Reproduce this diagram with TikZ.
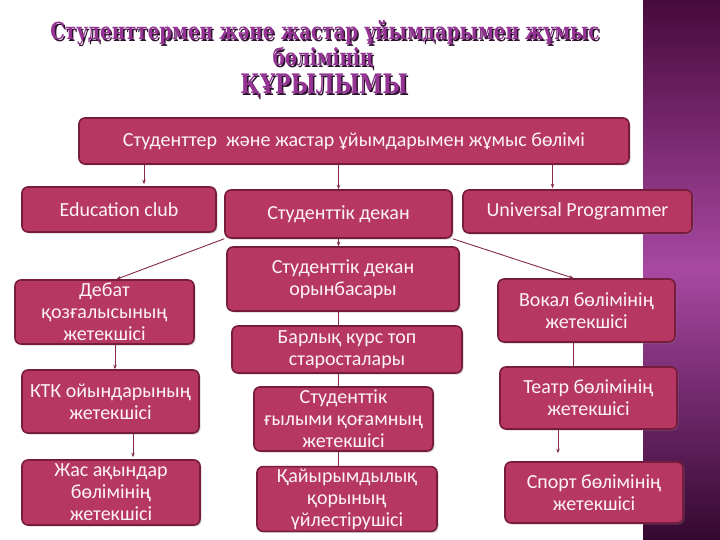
\documentclass[tikz,border=0pt]{standalone}
\usepackage{fontspec}
\setmainfont{Carlito}
\newfontfamily\titlefont{DejaVu Serif}
\usetikzlibrary{arrows.meta,shadows}
\definecolor{boxfill}{RGB}{182,56,98}
\definecolor{boxline}{RGB}{120,28,62}
\definecolor{txt}{RGB}{253,242,247}
\definecolor{connc}{RGB}{135,42,72}
\definecolor{ttl}{RGB}{150,52,150}
\definecolor{ttlsh}{RGB}{45,18,45}
\definecolor{stripA}{RGB}{72,10,60}
\definecolor{stripB}{RGB}{168,72,162}
\definecolor{stripC}{RGB}{52,8,48}
\newcommand{\tsq}[1]{\scalebox{0.87}[1.12]{#1}}
\begin{document}
\begin{tikzpicture}[x=1pt,y=-1pt,
  box/.style={draw=boxline, line width=1.6pt, fill=boxfill, rounded corners=6pt,
    text=txt, font=\fontsize{20}{22}\selectfont, align=center, inner sep=2pt,
    drop shadow={shadow xshift=1.5pt, shadow yshift=-1.5pt, opacity=0.35}},
  conn/.style={draw=connc, line width=0.9pt},
  arr/.style={conn, -{Stealth[length=4.5pt,width=3.5pt]}},
  ttlA/.style={font=\titlefont\bfseries\fontsize{21}{24}\selectfont, inner sep=0pt},
  ttlB/.style={font=\titlefont\bfseries\fontsize{24}{28}\selectfont, inner sep=0pt}]
\useasboundingbox (0,0) rectangle (720,540);
\fill[white] (0,0) rectangle (720,540);
\shade[top color=stripA, bottom color=stripC, middle color=stripB] (643,0) rectangle (720,540);

% title
\node[ttlA, text=ttlsh] (t1s) at (326.5,34.5) {\tsq{Студенттермен және жастар ұйымдарымен жұмыс}};
\node[ttlA, text=ttl] (t1) at (325,33) {\tsq{Студенттермен және жастар ұйымдарымен жұмыс}};
\node[ttlA, text=ttlsh] (t2s) at (324.5,59.5) {\tsq{бөлімінің}};
\node[ttlA, text=ttl] (t2) at (323,58) {\tsq{бөлімінің}};
\node[ttlB, text=ttlsh] (t3s) at (325.5,87.5) {\tsq{ҚҰРЫЛЫМЫ}};
\node[ttlB, text=ttl] (t3) at (324,86) {\tsq{ҚҰРЫЛЫМЫ}};

% boxes
\node[box, minimum width=550pt, minimum height=46pt] (top) at (354,141) {Студенттер\ \ және жастар ұйымдарымен жұмыс бөлімі};
\node[box, minimum width=194pt, minimum height=45pt] (ed) at (119,209.5) {Education club};
\node[box, minimum width=227pt, minimum height=48pt] (dean) at (338.5,214) {Студенттік декан};
\node[box, minimum width=229pt, minimum height=43pt] (up) at (577.5,211.5) {Universal Programmer};
\node[box, minimum width=232pt, minimum height=64pt] (orynb) at (343,279) {Студенттік декан\\орынбасары};
\node[box, minimum width=230pt, minimum height=47pt] (barlyk) at (347,349.5) {Барлық курс топ\\старосталары};
\node[box, minimum width=179pt, minimum height=64pt] (gylymi) at (343.5,419) {Студенттік\\ғылыми қоғамның\\жетекшісі};
\node[box, minimum width=180pt, minimum height=62pt] (kaiyr) at (347,499) {Қайырымдылық\\қорының\\үйлестірушісі};
\node[box, minimum width=179pt, minimum height=64pt] (debat) at (104.5,312) {Дебат\\қозғалысының\\жетекшісі};
\node[box, minimum width=177pt, minimum height=63pt] (ktk) at (110.5,401.5) {КТК ойындарының\\жетекшісі};
\node[box, minimum width=178pt, minimum height=65pt] (zhas) at (111,492.5) {Жас ақындар\\бөлімінің\\жетекшісі};
\node[box, minimum width=177pt, minimum height=63pt] (vokal) at (586.5,310.5) {Вокал бөлімінің\\жетекшісі};
\node[box, minimum width=177pt, minimum height=62pt] (teatr) at (588.5,398) {Театр бөлімінің\\жетекшісі};
\node[box, minimum width=178pt, minimum height=61pt] (sport) at (594,492.5) {Спорт бөлімінің\\жетекшісі};

% connectors
\draw[arr, shorten >=2pt] ([xshift=25pt]ed.north |- top.south) -- ([xshift=25pt]ed.north);
\draw[arr] (top.south -| dean.north) -- (dean.north);
\draw[arr, shorten >=1pt] ([xshift=-25pt]up.north |- top.south) -- ([xshift=-25pt]up.north);
\draw[arr] (dean.south west) -- ([xshift=12pt]debat.north);
\draw[arr] (dean.south east) -- ([xshift=-13pt]vokal.north);
\draw[arr] (dean.south) -- (dean.south |- orynb.north);
\draw[conn] (orynb.south -| dean.south) -- (barlyk.north -| dean.south);
\draw[conn] (barlyk.south -| dean.south) -- (gylymi.north -| dean.south);
\draw[conn] (gylymi.south -| dean.south) -- (kaiyr.north -| dean.south);
\draw[arr] ([xshift=10.5pt]debat.south) -- ([xshift=10.5pt]debat.south |- ktk.north);
\draw[arr, shorten >=2pt] ([xshift=22.5pt]ktk.south) -- ([xshift=22.5pt]ktk.south |- zhas.north);
\draw[conn] ([xshift=-13.5pt]vokal.south) -- ([xshift=-13.5pt]vokal.south |- teatr.north);
\draw[arr, shorten >=8pt] ([xshift=-30.5pt]teatr.south) -- ([xshift=-30.5pt]teatr.south |- sport.north);
\end{tikzpicture}
\end{document}
